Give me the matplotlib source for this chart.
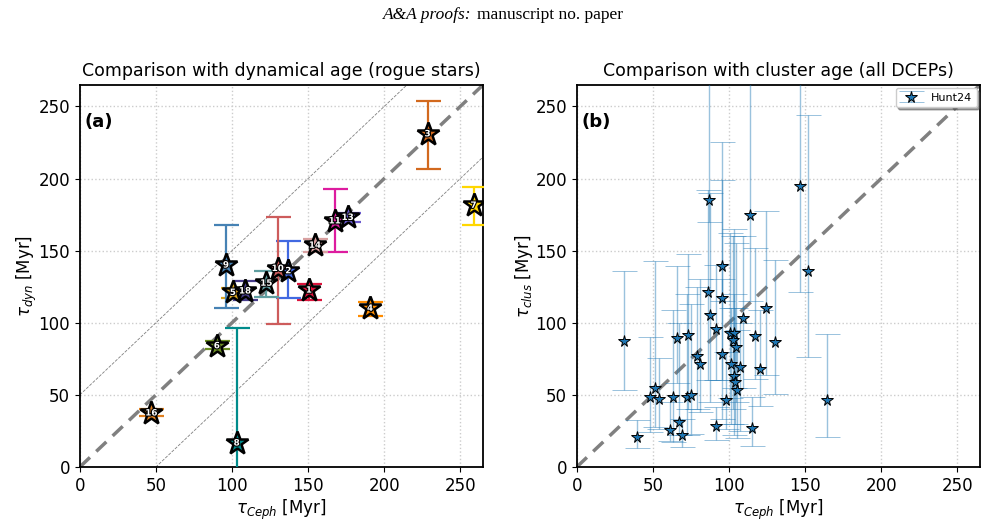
import numpy as np
import matplotlib.pyplot as plt
import matplotlib.patheffects as pe

# ---- panel (a): rogue stars, dynamical vs Cepheid age ----
rogue_id = ["1", "2", "3", "4", "5", "6", "7", "8", "9", "10", "11", "13", "14", "15", "16", "18"]
rogue_tceph = [150.5, 137.0, 228.5, 190.7, 100.5, 90.0, 258.7, 103.0, 96.0, 130.0, 167.5, 176.0, 154.5, 122.5, 47.0, 108.5]
rogue_tdyn = [122.6, 136.0, 231.0, 110.0, 121.0, 84.0, 181.4, 16.6, 140.0, 137.6, 170.6, 173.0, 153.7, 127.4, 37.4, 122.0]
rogue_lo = [116.0, 117.0, 206.4, 104.8, 117.0, 81.5, 167.6, -10.0, 110.0, 99.0, 149.0, 170.0, 149.0, 118.0, 35.0, 116.0]
rogue_hi = [126.7, 157.0, 253.7, 114.5, 124.0, 87.0, 194.0, 96.0, 168.0, 173.0, 193.0, 176.0, 158.0, 136.0, 40.0, 129.0]
rogue_col = ["#dc143c", "#4169e1", "#d2691e", "#ff8c00", "#daa520", "#6b8e23", "#ffd700", "#008b8b",
             "#4682b4", "#cd5c5c", "#dd1c9f", "#6a5acd", "#d8a0a0", "#5f9ea0", "#e08020", "#483d8b"]

# ---- panel (b): all DCEPs, cluster vs Cepheid age (Hunt24) ----
clus_tceph = [87.1, 113.6, 146.4, 95.3, 151.7, 86.2, 95.3, 124.4, 87.3, 109.4,
              91.5, 100.6, 103.4, 102.6, 31.2, 66.1, 73.1, 117.2, 130.2, 104.3,
              79.1, 95.3, 80.9, 101.5, 107.4, 120.5, 103.2, 104.1, 105.0, 51.1,
              47.9, 54.2, 63.0, 72.1, 75.1, 98.3, 164.5, 39.3, 61.2, 67.0,
              69.4, 91.3, 115.4]
clus_tclus = [184.9, 175.0, 195.1, 139.4, 136.1, 121.0, 117.4, 110.5, 105.1, 103.2,
              95.8, 92.6, 92.6, 87.9, 87.5, 89.1, 91.2, 90.7, 86.6, 83.1,
              77.1, 78.0, 71.5, 71.5, 69.5, 67.7, 63.2, 59.1, 53.3, 54.5,
              48.3, 47.1, 48.5, 48.5, 49.7, 46.2, 46.2, 20.6, 25.6, 31.4,
              22.2, 28.4, 26.8]
clus_lo = [170.0, 115.0, 121.0, 115.0, 76.0, 60.0, 60.0, 64.0, 45.0, 55.0,
           60.0, 48.0, 55.0, 40.0, 53.3, 58.0, 40.0, 61.0, 50.5, 45.0,
           40.0, 33.0, 38.0, 30.0, 25.0, 42.0, 22.0, 30.0, 20.0, 28.0,
           24.5, 26.0, 17.5, 22.0, 23.0, 26.0, 20.8, 13.0, 18.0, 22.0,
           14.0, 18.7, 14.8]
clus_hi = [300.0, 330.0, 320.0, 225.0, 244.0, 192.0, 199.0, 177.5, 190.0, 160.0,
           140.0, 162.0, 165.0, 160.0, 136.0, 139.0, 148.0, 152.0, 143.8, 155.0,
           125.0, 130.0, 130.0, 110.0, 100.0, 109.0, 120.0, 110.0, 95.0, 143.0,
           90.0, 75.5, 109.0, 120.0, 112.7, 80.0, 91.9, 32.5, 45.0, 100.0,
           33.0, 41.8, 48.3]

fig = plt.figure(figsize=(9.86, 5.30), dpi=100)
fig.text(0.4785, 0.972, "A&A proofs:", ha="right", va="center",
         family="Liberation Serif", style="italic", fontsize=12.5)
fig.text(0.4840, 0.972, "manuscript no. paper", ha="left", va="center",
         family="Liberation Serif", fontsize=12.5)

ax1 = fig.add_axes([0.081, 0.119, 0.409, 0.721])
ax2 = fig.add_axes([0.585, 0.119, 0.409, 0.721])

lim = (0, 265)
xx = np.array(lim)
for ax in (ax1, ax2):
    ax.plot(xx, xx, color="gray", ls=(0, (4, 2.5)), lw=2.5, zorder=2)
    ax.set_xlim(lim)
    ax.set_ylim(lim)
    ax.set_xticks([0, 50, 100, 150, 200, 250])
    ax.set_yticks([0, 50, 100, 150, 200, 250])
    ax.grid(True, ls=":", color="#cccccc", lw=1)
    ax.tick_params(labelsize=12)
    for s in ax.spines.values():
        s.set_linewidth(1.3)
    ax.set_xlabel(r"$\tau_{Ceph}$ [Myr]", fontsize=12, labelpad=2)

# +-50 Myr guides
ax1.plot(xx, xx + 50, color="gray", ls="--", lw=0.6, zorder=2)
ax1.plot(xx, xx - 50, color="gray", ls="--", lw=0.6, zorder=2)

for i in range(len(rogue_id)):
    x = rogue_tceph[i]
    y = rogue_tdyn[i]
    err = [[y - rogue_lo[i]], [rogue_hi[i] - y]]
    ax1.errorbar([x], [y], yerr=err, fmt="none", ecolor=rogue_col[i],
                 elinewidth=1.6, capsize=9, capthick=1.6, zorder=3)
    ax1.plot([x], [y], marker="*", ms=17, mfc=rogue_col[i], mec="black",
             mew=1.8, ls="none", zorder=4)
    ax1.text(x, y, rogue_id[i], ha="center", va="center", fontsize=6.3,
             color="white", weight="bold", zorder=5,
             path_effects=[pe.withStroke(linewidth=1.6, foreground="black")])

ax1.set_ylabel(r"$\tau_{dyn}$ [Myr]", fontsize=12, labelpad=0)
ax1.set_title("Comparison with dynamical age (rogue stars)", fontsize=12.5)
ax1.text(0.012, 0.89, "(a)", transform=ax1.transAxes, fontsize=13, weight="bold")

tc = np.array(clus_tclus)
yerr2 = [tc - np.array(clus_lo), np.array(clus_hi) - tc]
ax2.errorbar(clus_tceph, clus_tclus, yerr=yerr2, fmt="*", ms=8.5, mfc="#1f77b4",
             mec="black", mew=0.7, ecolor=(0.12, 0.47, 0.71, 0.45),
             elinewidth=1, capsize=9, capthick=1.3, label="Hunt24", zorder=4)
ax2.set_ylabel(r"$\tau_{clus}$ [Myr]", fontsize=12, labelpad=0)
ax2.set_title("Comparison with cluster age (all DCEPs)", fontsize=12.5)
ax2.text(0.012, 0.89, "(b)", transform=ax2.transAxes, fontsize=13, weight="bold")
ax2.legend(loc="upper right", fontsize=8, shadow=True, fancybox=True,
           borderpad=0.4, handlelength=2, borderaxespad=0.3)

fig.savefig("out.png", dpi=100)
